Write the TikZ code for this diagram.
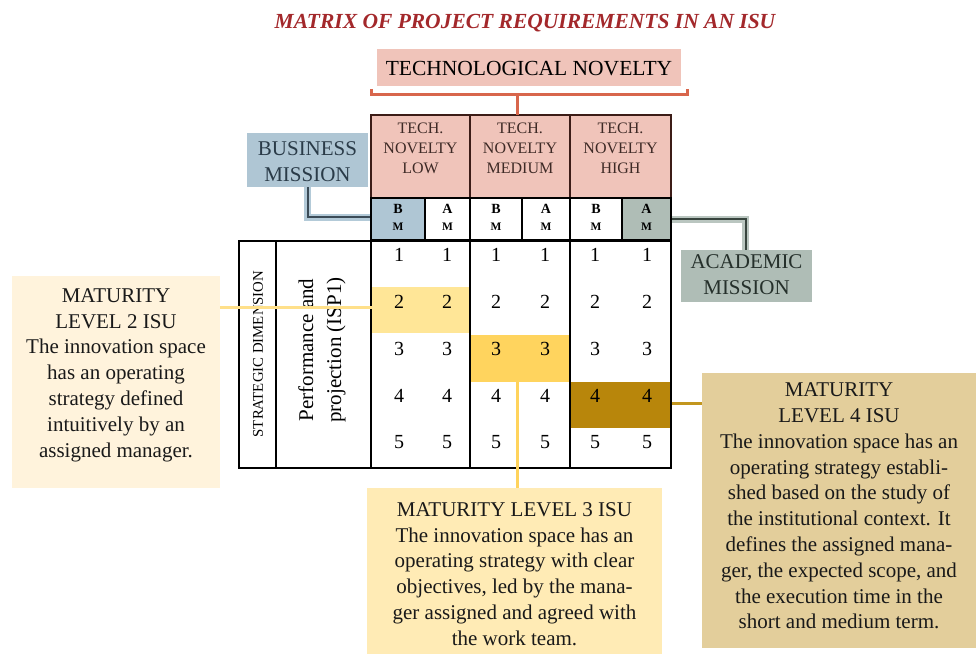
\documentclass[tikz,border=0pt]{standalone}
\usepackage{fontspec}
\setmainfont{Liberation Serif}
\definecolor{titlered}{HTML}{A3282B}
\definecolor{pinkfill}{HTML}{F0C4BA}
\definecolor{hdrline}{HTML}{3C1C17}
\definecolor{hdrtext}{HTML}{3E2A26}
\definecolor{bracketc}{HTML}{D8664C}
\definecolor{bluefill}{HTML}{AFC6D4}
\definecolor{bluetext}{HTML}{2A3B48}
\definecolor{bluedark}{HTML}{3B4B57}
\definecolor{bluelight}{HTML}{B3CAD8}
\definecolor{greyfill}{HTML}{AFBDB6}
\definecolor{greytext}{HTML}{25302B}
\definecolor{greydark}{HTML}{38443E}
\definecolor{greylight}{HTML}{BAC6C0}
\definecolor{hltwo}{HTML}{FFE697}
\definecolor{hlthree}{HTML}{FFD45E}
\definecolor{hlfour}{HTML}{B8860B}
\definecolor{mtwo}{HTML}{FFF3DC}
\definecolor{mthree}{HTML}{FFEBB5}
\definecolor{mfour}{HTML}{E3CE9B}
\definecolor{ctwo}{HTML}{FFE08A}
\definecolor{cthree}{HTML}{FFD35C}
\definecolor{cfour}{HTML}{C2961E}
\newcommand\myfs[2]{\fontsize{#1}{#2}\selectfont}
\begin{document}
\begin{tikzpicture}[x=1pt,y=-1pt,
  rect/.style={inner sep=0pt, outer sep=0pt, anchor=center},
  txt/.style={inner sep=0pt, outer sep=0pt, align=center},
  dig/.style={inner sep=0pt, font=\myfs{20}{24}},
  hdrcell/.style={rect, fill=pinkfill, draw=hdrline, line width=1.5pt, minimum height=83pt},
  hdrtxt/.style={txt, text=hdrtext, font=\myfs{16}{20}},
  mcell/.style={rect, draw=black, line width=1.5pt, minimum height=42pt, align=center},
  grid/.style={line width=1.5pt, black},
  mattxt/.style={txt, text=black!90, font=\myfs{21}{25.8}},
  missiontxt/.style={txt, font=\myfs{21}{26}},
]
\useasboundingbox (0,0) rectangle (976,655);

% title
\node[txt, text=titlered, font=\myfs{21.5}{26}\bfseries\itshape] (title) at (525,23) {MATRIX OF PROJECT REQUIREMENTS IN AN ISU};

% technological novelty
\node[rect, fill=pinkfill, minimum width=304pt, minimum height=37pt] (tn) at (529,67.5) {};
\node[txt, font=\myfs{21.5}{26}] (tnt) at (529,69) {TECHNOLOGICAL NOVELTY};

% header cells
\node[hdrcell, minimum width=99pt] (hlow) at (420.5,156.5) {};
\node[hdrcell, minimum width=100pt] (hmed) at (520,156.5) {};
\node[hdrcell, minimum width=101pt] (hhigh) at (620.5,156.5) {};
\node[hdrtxt] (hlowt) at (420.5,148) {TECH.\\NOVELTY\\LOW};
\node[hdrtxt] (hmedt) at (520,148) {TECH.\\NOVELTY\\MEDIUM};
\node[hdrtxt] (hhight) at (620.5,148) {TECH.\\NOVELTY\\HIGH};

% bracket
\coordinate (bl) at (371,89);
\coordinate (br) at (687,89);
\draw[bracketc, line width=3pt] (bl) -- ++(0,6) -| (br);
\draw[bracketc, line width=3pt] (hmed.north) ++(-3,0) -- ++(0,-20);

% mission boxes
\node[rect, fill=bluefill, minimum width=121pt, minimum height=54pt] (bmbox) at (307.5,160) {};
\node[missiontxt, text=bluetext] (bmt) at (307.5,162) {BUSINESS\\MISSION};
\node[rect, fill=greyfill, minimum width=131pt, minimum height=52pt] (ambox) at (746.5,276) {};
\node[missiontxt, text=greytext] (amt) at (746.5,275) {ACADEMIC\\MISSION};

% connectors of the mission boxes
\coordinate (bm1w) at (371,217);
\coordinate (am3e) at (671,219);
\draw[bluelight, line width=7pt] (bmbox.south) |- (bm1w);
\draw[bluedark, line width=2pt] (bmbox.south) |- (bm1w);
\draw[greylight, line width=7pt] (am3e) -| ([xshift=-1pt]ambox.north);
\draw[greydark, line width=2pt] (am3e) -| ([xshift=-1pt]ambox.north);

% B/A M cells
\node[mcell, fill=bluefill, minimum width=54pt] (bm1) at (398,219) {};
\node[mcell, minimum width=45pt] (am1) at (447.5,219) {};
\node[mcell, minimum width=52pt] (bm2) at (496,219) {};
\node[mcell, minimum width=48pt] (am2) at (546,219) {};
\node[mcell, minimum width=52pt] (bm3) at (596,219) {};
\node[mcell, fill=greyfill, minimum width=49pt] (am3) at (646.5,219) {};
\foreach \n/\l in {bm1/B,am1/A,bm2/B,am2/A,bm3/B,am3/A}{
  \node[txt, font=\myfs{14}{16}\bfseries] (\n t1) at ([yshift=10pt]\n.center) {\l};
  \node[txt, font=\myfs{11.5}{14}\bfseries] (\n t2) at ([yshift=-8pt]\n.center) {M};
}

% highlights
\node[rect, fill=hltwo, minimum width=98pt, minimum height=46pt] (hl2) at (421,310) {};
\node[rect, fill=hlthree, minimum width=99pt, minimum height=47pt] (hl3) at (519.5,358.5) {};
\node[rect, fill=hlfour, minimum width=102pt, minimum height=46pt] (hl4) at (620.5,405) {};

% grid
\draw[grid] (239,241) rectangle (671,468);
\foreach \x in {276,371,470,570} \draw[grid] (\x,241) -- (\x,468);

% digits
\foreach \yy [count=\r] in {255,302,349,396,442}
  \foreach \xx [count=\c] in {399,447,496,545,595,647}
    \node[dig] (d\r\c) at (\xx,\yy) {\r};

% rotated texts
\node[txt, rotate=90, font=\myfs{14.8}{16}] (sd) at (258,354) {STRATEGIC DIMENSION};
\node[txt, rotate=90, font=\myfs{21}{28}] (perf) at (322,350) {Performance and\\projection (ISP1)};

% maturity boxes
\node[rect, fill=mtwo, minimum width=208pt, minimum height=212pt] (m2) at (116,382) {};
\node[mattxt] (m2t) at (116,375) {MATURITY\\LEVEL 2 ISU\\The innovation space\\has an operating\\strategy defined\\intuitively by an\\assigned manager.};
\node[rect, fill=mthree, minimum width=295pt, minimum height=166pt] (m3) at (514.5,571) {};
\node[mattxt] (m3t) at (514.5,574) {MATURITY LEVEL 3 ISU\\The innovation space has an\\operating strategy with clear\\objectives, led by the mana-\\ger assigned and agreed with\\the work team.};
\node[rect, fill=mfour, minimum width=274pt, minimum height=275pt] (m4) at (839,510.5) {};
\node[mattxt] (m4t) at (839,506) {MATURITY\\LEVEL 4 ISU\\The innovation space has an\\operating strategy establi-\\shed based on the study of\\the institutional context. It\\defines the assigned mana-\\ger, the expected scope, and\\the execution time in the\\short and medium term.};

% maturity connectors
\draw[ctwo, line width=3pt] ([yshift=3pt]hl2.west -| m2.east) -- ([yshift=3pt]hl2.west);
\draw[cthree, line width=3pt] ([xshift=-2.5pt]hl3.south) -- ([xshift=-2.5pt]hl3.south |- m3.north);
\draw[cfour, line width=3pt] ([yshift=2pt]hl4.east) -- ([yshift=2pt]hl4.east -| m4.west);
\end{tikzpicture}
\end{document}
